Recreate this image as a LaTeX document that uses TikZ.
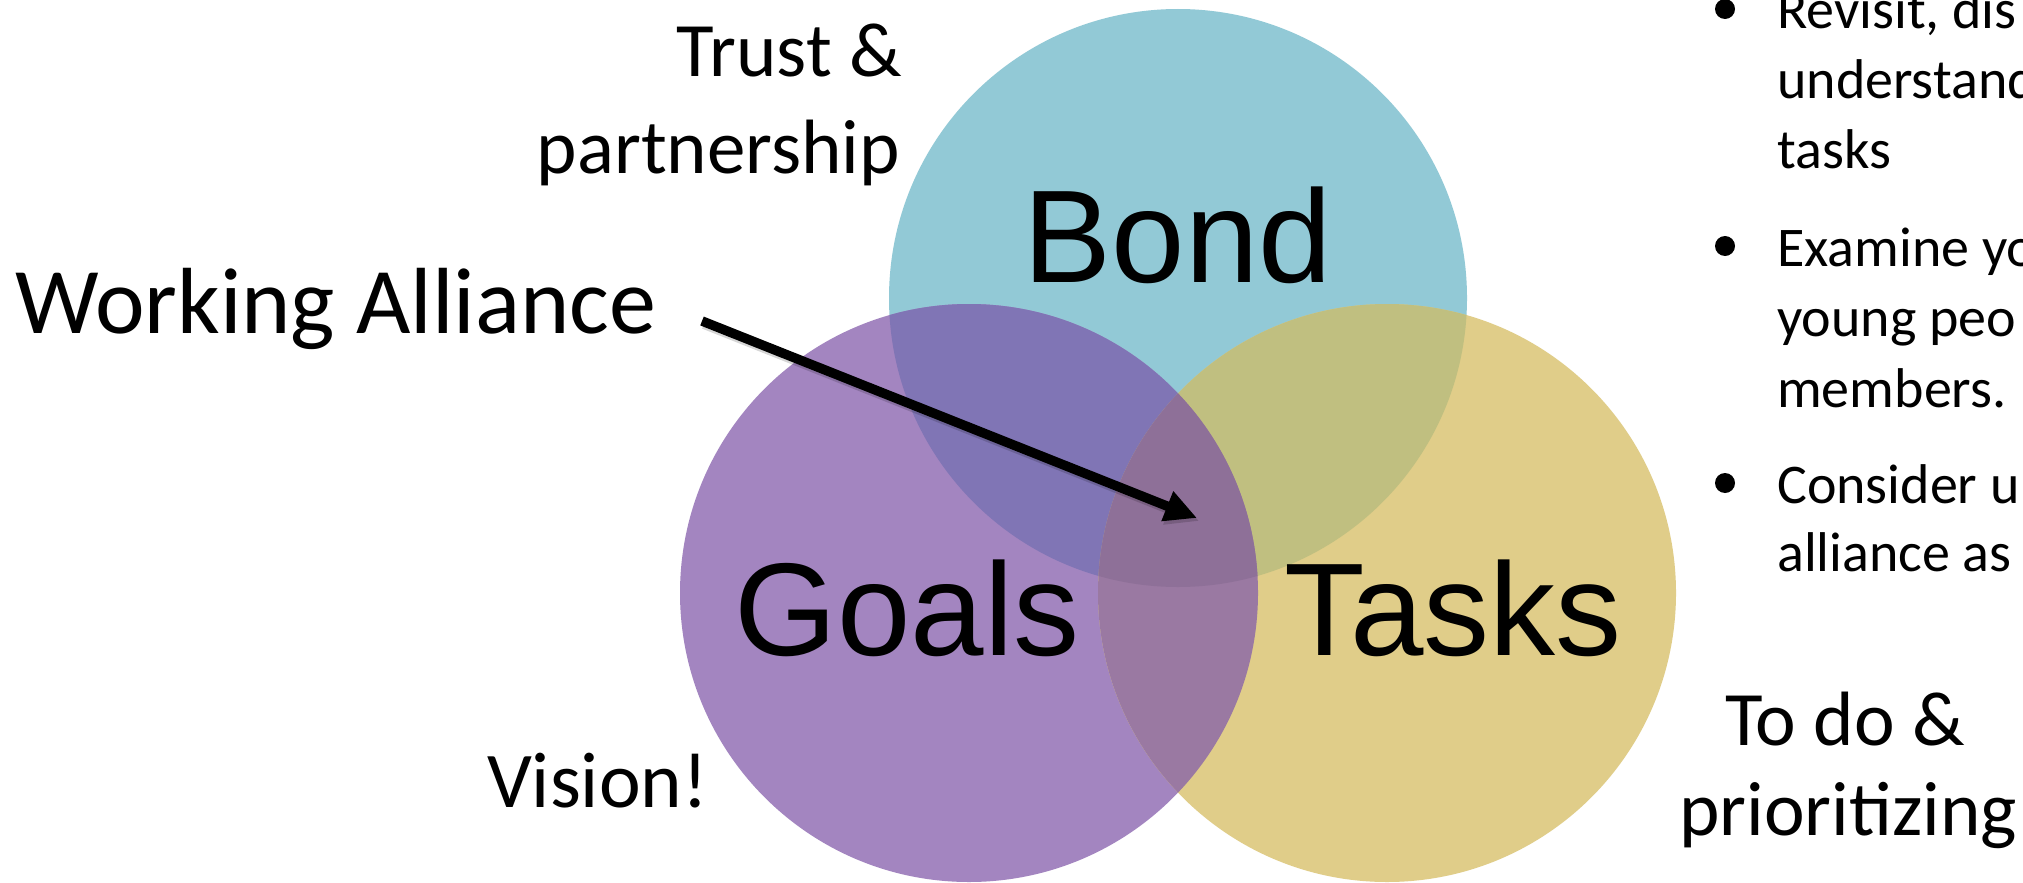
\documentclass[tikz,border=0pt]{standalone}
\usepackage{fontspec}
\setmainfont{Carlito}
\newfontfamily\arialf{Liberation Sans}
\usetikzlibrary{arrows.meta}
\definecolor{cBond}{HTML}{92C9D6}
\definecolor{cGoals}{HTML}{A385C0}
\definecolor{cTasks}{HTML}{E0CD89}
\definecolor{cBG}{HTML}{8075B5}
\definecolor{cBT}{HTML}{C0BF80}
\definecolor{cGT}{HTML}{9A79A2}
\definecolor{cAll}{HTML}{8E7098}
\begin{document}
\begin{tikzpicture}[x=1pt,y=-1pt,
  lbl/.style={inner sep=0pt, font=\fontsize{77}{92}\selectfont},
  big/.style={inner sep=0pt, font=\arialf\fontsize{132}{150}\selectfont},
  wal/.style={inner sep=0pt, font=\fontsize{94}{112}\selectfont},
  bul/.style={inner sep=0pt, anchor=base west, font=\fontsize{56}{68}\selectfont},
  bdot/.style={circle, fill=black, minimum size=20pt, inner sep=0pt},
  connector/.style={black, line width=9.5pt, -{Triangle[length=32pt,width=30pt]}},
  shadowline/.style={black, opacity=0.16, line width=10pt, -{Triangle[length=32pt,width=31pt]}}]
\useasboundingbox (0,0) rectangle (2023,883);
\fill[white] (0,0) rectangle (2023,883);
\coordinate (cb) at (1178,298);
\coordinate (cg) at (969,593);
\coordinate (ct) at (1387,593);
% single circles
\fill[cBond] (cb) circle[radius=289pt];
\fill[cGoals] (cg) circle[radius=289pt];
\fill[cTasks] (ct) circle[radius=289pt];
% pairwise overlaps
\begin{scope}\clip (cb) circle[radius=289pt]; \fill[cBG] (cg) circle[radius=289pt];\end{scope}
\begin{scope}\clip (cb) circle[radius=289pt]; \fill[cBT] (ct) circle[radius=289pt];\end{scope}
\begin{scope}\clip (cg) circle[radius=289pt]; \fill[cGT] (ct) circle[radius=289pt];\end{scope}
% triple overlap
\begin{scope}\clip (cb) circle[radius=289pt]; \clip (cg) circle[radius=289pt]; \fill[cAll] (ct) circle[radius=289pt];\end{scope}
% circle labels
\node[big, anchor=base] (bond) at (1178,282) {Bond};
\node[big, anchor=base] (goals) at (907,655) {Goals};
\node[big, anchor=base] (tasks) at (1453,655) {Tasks};
% side labels
\node[lbl, anchor=base east] (trust) at (902,77) {Trust \&};
\node[lbl, anchor=base east] (partner) at (900,173) {partnership};
\node[wal, anchor=base west] (wa) at (15,333) {Working Alliance};
\node[lbl, anchor=base west, font=\fontsize{79}{92}\selectfont] (vision) at (487,807) {Vision!};
\node[lbl, anchor=base] (todo) at (1845,745) {To do \&};
\node[lbl, anchor=base] (prio) at (1848,835) {prioritizing};
% arrow
\coordinate (as) at (702,321);
\coordinate (ae) at (1197,518);
\coordinate (ass) at (704,324);
\coordinate (aes) at (1199,521);
\draw[shadowline] (ass) -- (aes);
\draw[connector] (as) -- (ae);
% bullet list
\node[bdot] (b1) at (1725,9) {};
\node[bul] (t1a) at (1777,29) {Revisit, dis};
\node[bul] (t1b) at (1777,98) {understand};
\node[bul] (t1c) at (1777,168) {tasks};
\node[bdot] (b2) at (1725,246) {};
\node[bul] (t2a) at (1777,266) {Examine yo};
\node[bul] (t2b) at (1777,336) {young peo};
\node[bul] (t2c) at (1777,407) {members.};
\node[bdot] (b3) at (1725,483) {};
\node[bul] (t3a) at (1777,503) {Consider u};
\node[bul] (t3b) at (1777,571) {alliance as};
\end{tikzpicture}
\end{document}
